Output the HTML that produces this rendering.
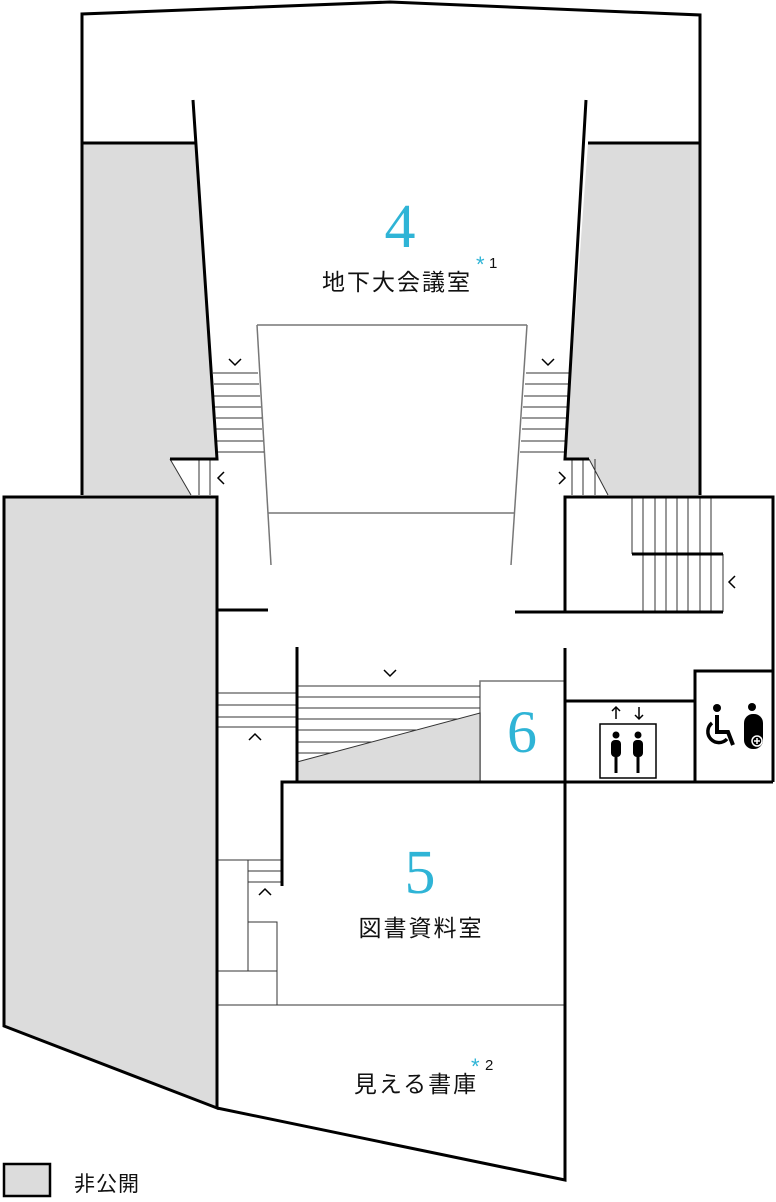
<!DOCTYPE html>
<html><head><meta charset="utf-8"><style>
html,body{margin:0;padding:0;background:#fff;}
svg{display:block;}
.t{font-family:"Liberation Sans","Noto Sans CJK JP",sans-serif;fill:#111;}
.n{font-family:"Liberation Serif","DejaVu Serif",serif;fill:#2fb4d6;}
</style></head><body>
<svg width="776" height="1202" viewBox="0 0 776 1202" xmlns="http://www.w3.org/2000/svg">
<g fill="#dcdcdc" stroke="none">
<polygon points="82,143 195,143 217,459 170,459 191,495 82,495"/>
<polygon points="588,143 700,143 700,495 608,495 589,459 565,459"/>
<polygon points="4,497 217,497 217,1108 4,1026"/>
<rect x="4" y="1164" width="46" height="32"/>
</g>
<g stroke="#777" stroke-width="1.5" fill="none">
<line x1="257" y1="325" x2="527" y2="325"/>
<line x1="257" y1="325" x2="271" y2="565"/>
<line x1="527" y1="325" x2="511" y2="565"/>
<line x1="268" y1="513" x2="514" y2="513"/>
<rect x="480" y="681" width="85" height="101"/>
</g>
<g stroke="#333" stroke-width="1" fill="none">
<line x1="213" y1="373" x2="258" y2="373"/><line x1="214" y1="384" x2="259" y2="384"/><line x1="214" y1="396" x2="260" y2="396"/><line x1="215" y1="407" x2="261" y2="407"/><line x1="216" y1="418" x2="262" y2="418"/><line x1="216" y1="429" x2="262" y2="429"/><line x1="217" y1="441" x2="263" y2="441"/><line x1="218" y1="452" x2="264" y2="452"/>
<line x1="526" y1="373" x2="570" y2="373"/><line x1="525" y1="384" x2="569" y2="384"/><line x1="524" y1="396" x2="568" y2="396"/><line x1="523" y1="407" x2="568" y2="407"/><line x1="522" y1="418" x2="567" y2="418"/><line x1="522" y1="429" x2="566" y2="429"/><line x1="521" y1="441" x2="566" y2="441"/><line x1="520" y1="452" x2="565" y2="452"/>
<line x1="170" y1="459" x2="191" y2="495"/><line x1="199" y1="459" x2="199" y2="495"/><line x1="210" y1="459" x2="210" y2="495"/>
<line x1="589" y1="459" x2="608" y2="495"/><line x1="572" y1="459" x2="572" y2="495"/><line x1="583" y1="459" x2="583" y2="495"/><line x1="595" y1="459" x2="595" y2="495"/>
<line x1="632" y1="497" x2="632" y2="554"/><line x1="643" y1="497" x2="643" y2="612"/><line x1="655" y1="497" x2="655" y2="612"/><line x1="666" y1="497" x2="666" y2="612"/><line x1="677" y1="497" x2="677" y2="612"/><line x1="688" y1="497" x2="688" y2="612"/><line x1="700" y1="497" x2="700" y2="612"/><line x1="711" y1="497" x2="711" y2="612"/><line x1="723" y1="554" x2="723" y2="612"/>
<line x1="217" y1="693" x2="297" y2="693"/><line x1="217" y1="705" x2="297" y2="705"/><line x1="217" y1="717" x2="297" y2="717"/><line x1="217" y1="727" x2="297" y2="727"/>
<line x1="297" y1="686" x2="480" y2="686"/><line x1="297" y1="697" x2="480" y2="697"/><line x1="297" y1="708" x2="480" y2="708"/><line x1="297" y1="719" x2="458" y2="719"/><line x1="297" y1="730" x2="416" y2="730"/><line x1="297" y1="742" x2="372" y2="742"/><line x1="297" y1="753" x2="331" y2="753"/>
<line x1="248" y1="860" x2="282" y2="860"/><line x1="248" y1="871" x2="282" y2="871"/><line x1="248" y1="882" x2="282" y2="882"/>
<line x1="217" y1="860" x2="248" y2="860"/><line x1="248" y1="860" x2="248" y2="971"/>
<rect x="248" y="922" width="29" height="49"/>
<line x1="217" y1="971" x2="277" y2="971"/><line x1="277" y1="971" x2="277" y2="1005"/>
<line x1="217" y1="1005" x2="565" y2="1005"/>
</g>
<polygon points="297,762 480,713 480,782 297,782" fill="#dcdcdc" stroke="#333" stroke-width="1"/>
<g stroke="#000" stroke-width="3" fill="none" stroke-linejoin="miter">
<polyline points="82,495 82,14 390,2 700,15 700,143"/>
<line x1="82" y1="143" x2="195" y2="143"/>
<line x1="588" y1="143" x2="700" y2="143"/>
<polyline points="193,100 217,459 170,459"/>
<polyline points="586,100 565,459 589,459"/>
<polygon points="4,497 217,497 217,1108 4,1026"/>
<polyline points="217,1108 565,1180 565,648"/>
<polyline points="700,143 700,495"/>
<line x1="217" y1="610" x2="268" y2="610"/>
<line x1="515" y1="612" x2="723" y2="612"/>
<polyline points="565,612 565,497 773,497 773,782"/>
<line x1="632" y1="554" x2="723" y2="554"/>
<line x1="297" y1="647" x2="297" y2="782"/>
<polyline points="282,886 282,782 773,782"/>
<rect x="565" y="701" width="130" height="81"/>
<polyline points="695,782 695,671 773,671"/>
</g>
<g stroke="#000" stroke-width="1.5" fill="none">
<polyline points="229,359 235,365 241,359"/><polyline points="542,359 548,365 554,359"/>
<polyline points="224,472 218,478 224,484"/><polyline points="559,472 565,478 559,484"/>
<polyline points="735,576 729,582 735,588"/>
<polyline points="384,670 390,676 396,670"/>
<polyline points="249,740 255,734 261,740"/>
<polyline points="259,895 265,889 271,895"/>
</g>
<g>
<rect x="600" y="724" width="56" height="54" fill="none" stroke="#000" stroke-width="1.5"/>
<line x1="616" y1="719" x2="616" y2="707" stroke="#000" stroke-width="1.5"/><polyline points="612,711 616,707 620,711" fill="none" stroke="#000" stroke-width="1.5"/>
<line x1="639" y1="707" x2="639" y2="719" stroke="#000" stroke-width="1.5"/><polyline points="635,715 639,719 643,715" fill="none" stroke="#000" stroke-width="1.5"/>
<circle cx="616" cy="735" r="3.5"/><rect x="611" y="740" width="10" height="17" rx="4"/><rect x="614.5" y="752" width="3" height="21"/>
<circle cx="638" cy="735" r="3.5"/><rect x="633" y="740" width="10" height="17" rx="4"/><rect x="636.5" y="752" width="3" height="21"/>
</g>
<g>
<circle cx="717" cy="708" r="4"/>
<path d="M717,715 L717,732 L728,732 L733,745" fill="none" stroke="#000" stroke-width="4"/>
<path d="M712,723 A11,11 0 1 0 727,739" fill="none" stroke="#000" stroke-width="3.5"/>
<circle cx="752" cy="707" r="4"/>
<rect x="744" y="714" width="19" height="35" rx="9"/>
<circle cx="757" cy="741" r="5" fill="#000" stroke="#fff" stroke-width="1.5"/>
<path d="M757,738 v6 M754,741 h6" stroke="#fff" stroke-width="1.5"/>
</g>
<text class="n" x="400" y="247" font-size="62" text-anchor="middle">4</text>
<text class="t" x="397" y="290" font-size="23" letter-spacing="2" text-anchor="middle">地下大会議室</text>
<text x="476" y="272" font-size="22" fill="#2fb4d6" font-family="Liberation Sans,sans-serif">*</text>
<text class="t" x="489" y="268" font-size="15">1</text>
<text class="n" x="522" y="752" font-size="60" text-anchor="middle">6</text>
<text class="n" x="420" y="893" font-size="62" text-anchor="middle">5</text>
<text class="t" x="421" y="936" font-size="23" letter-spacing="2" text-anchor="middle">図書資料室</text>
<text class="t" x="416" y="1092" font-size="23" letter-spacing="2" text-anchor="middle">見える書庫</text>
<text x="471" y="1074" font-size="22" fill="#2fb4d6" font-family="Liberation Sans,sans-serif">*</text>
<text class="t" x="485" y="1070" font-size="15">2</text>
<rect x="4" y="1164" width="46" height="32" fill="none" stroke="#000" stroke-width="2.5"/>
<text class="t" x="74" y="1191" font-size="21" letter-spacing="1">非公開</text>
</svg>
</body></html>
